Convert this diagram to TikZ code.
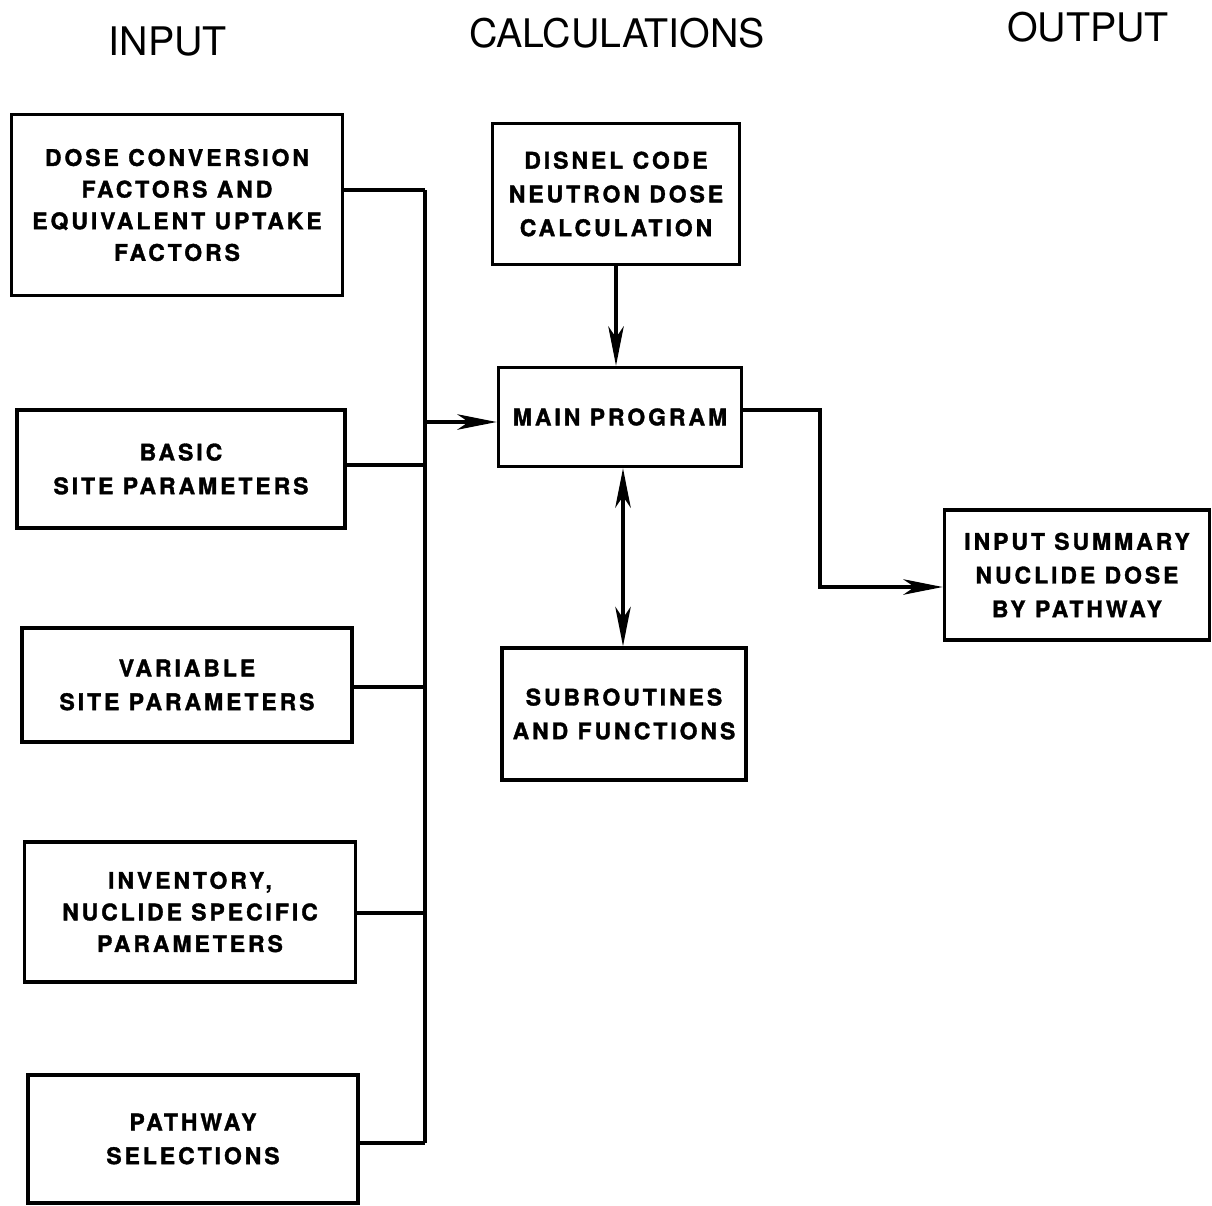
\documentclass[tikz,border=0pt]{standalone}
\usepackage{fontspec}
\setmainfont{TeX Gyre Heros}
\newfontfamily\boxfont[LetterSpace=13, BoldFeatures={FakeBold=1.5}]{TeX Gyre Heros}
\usetikzlibrary{arrows.meta, calc}

\begin{document}
\begin{tikzpicture}[x=0.25mm, y=-0.25mm,
    >={Stealth[length=28pt, width=11pt, inset=8pt]},
    blk/.style={draw, line width=2.6pt, align=center, inner sep=0pt,
        font=\boxfont\bfseries\fontsize{16.3}{24}\selectfont},
    sz/.style 2 args={minimum width=#1*0.25mm, minimum height=#2*0.25mm},
    ttl/.style={font=\fontsize{28}{32}\selectfont},
    wire/.style={line width=2.6pt}]

    \useasboundingbox (0,0) rectangle (1212,1205);

    % Titulos
    \node[ttl] (tin)  at (168,42)  {INPUT};
    \node[ttl] (tcal) at (617,33)  {CALCULATIONS};
    \node[ttl] (tout) at (1088,27) {OUTPUT};

    % Entradas
    \node[blk, sz={331}{181},
        font=\boxfont\bfseries\fontsize{16.3}{22.5}\selectfont]
        (dcf) at (177,205) {DOSE CONVERSION\\FACTORS AND\\EQUIVALENT UPTAKE\\FACTORS};
    \node[blk, sz={328}{118}] (basic) at (181,469)
        {BASIC\\SITE PARAMETERS};
    \node[blk, sz={330}{114}] (var) at (187,685)
        {VARIABLE\\SITE PARAMETERS};
    \node[blk, sz={331}{140},
        font=\boxfont\bfseries\fontsize{16.3}{22.5}\selectfont]
        (inv) at (190,912) {INVENTORY,\\NUCLIDE SPECIFIC\\PARAMETERS};
    \node[blk, sz={330}{128}] (path) at (193,1139)
        {PATHWAY\\SELECTIONS};

    % Calculos
    \node[blk, sz={247}{141}] (disnel) at (616,194)
        {DISNEL CODE\\NEUTRON DOSE\\CALCULATION};
    \node[blk, sz={243}{99}] (main) at (620,417)
        {MAIN PROGRAM};
    \node[blk, sz={244}{132}] (sub) at (624,714)
        {SUBROUTINES\\AND FUNCTIONS};

    % Salida
    \node[blk, sz={265}{130}] (out) at (1077,575)
        {INPUT SUMMARY\\NUCLIDE DOSE\\BY PATHWAY};

    % Bus de entradas
    \coordinate (b1) at (425,190);
    \coordinate (b5) at (425,1143);
    \coordinate (bm) at (425,422);
    \draw[wire] (b1) -- (b5);
    \draw[wire] (dcf.east |- b1) -- (b1);
    \draw[wire] (basic.east |- 0,465) -- (b1 |- 0,465);
    \draw[wire] (var.east |- 0,687) -- (b1 |- 0,687);
    \draw[wire] (inv.east |- 0,913) -- (b1 |- 0,913);
    \draw[wire] (path.east |- b5) -- (b5);
    \draw[wire, ->] (bm) -- (main.west |- bm);

    % Flechas centrales
    \draw[wire, ->] (disnel.south) -- (disnel.south |- main.north);
    \coordinate (m1) at (623,0);
    \draw[wire, <->] (main.south -| m1) -- (sub.north -| m1);

    % Hacia la salida
    \coordinate (c1) at (820,410);
    \coordinate (c2) at (820,587);
    \draw[wire, ->] (main.east |- c1) -- (c1) -- (c2) -- (out.west |- c2);
\end{tikzpicture}
\end{document}
